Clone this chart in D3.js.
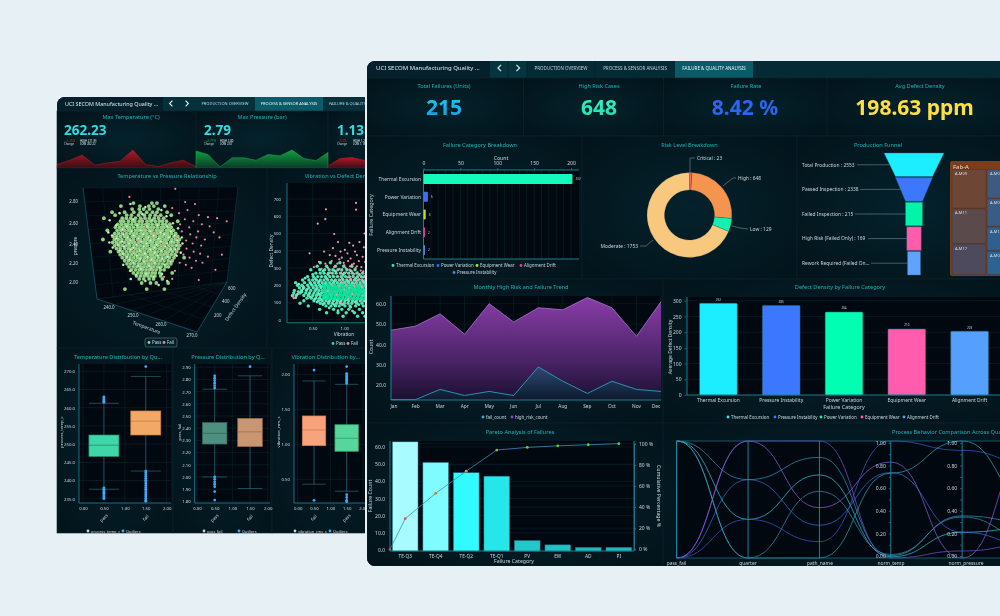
<!DOCTYPE html>
<meta charset="utf-8">
<style>
html,body{margin:0;padding:0;background:#e6f0f5;overflow:hidden;}
svg{display:block;font-family:"Noto Sans",sans-serif;filter:blur(.25px);}
.ax path,.ax line{stroke:#1f8a9c;stroke-width:.7;fill:none;}
.ax text{font-size:5px;fill:#c5d8dd;font-family:"Noto Sans",sans-serif;}
.grid line{stroke:#0e2b34;stroke-width:.5;}
</style>
<body>
<script src="https://cdnjs.cloudflare.com/ajax/libs/d3/7.8.5/d3.min.js"></script>
<script>
// ---------- data ----------
var failCats=['Thermal Excursion','Power Variation','Equipment Wear','Alignment Drift','Pressure Instability'];
var failCounts=[202,6,3,2,2];
var failColors=['#14fabb','#3a6fef','#b6e31a','#e0408f','#4a8fdf'];

var riskNames=['Critical','High','Low','Moderate'];
var riskValues=[23,648,129,1753];
var riskColors=['#f46a6a','#f4944f','#14f0b0','#f8c87e'];

var funnelNames=['Total Production : 2553','Passed Inspection : 2338','Failed Inspection : 215','High Risk (Failed Only) : 169','Rework Required (Failed On...'];
var funnelValues=[2553,2338,215,169,100];
var funnelColors=['#1ceeff','#3b78ff','#00f5a8','#ff5cad','#5fa3ff'];

var fabLeft=['A-M09','A-M11','A-M17'];
var fabLeftVals=[38,34,30];
var fabRight=['A-M05','A-M02','A-M14','A-M08'];
var fabRightVals=[28,27,23,23];

var months=['Jan','Feb','Mar','Apr','May','Jun','Jul','Aug','Sep','Oct','Nov','Dec'];
var highRiskCount=[47,49,55,45,60,51,58,57,63,58,44,61];
var failCount=[13,13,18,15,17,15,29,22,16,22,18,17];

var densityCats=['Thermal Excursion','Pressure Instability','Power Variation','Equipment Wear','Alignment Drift'];
var densityVals=[292,285,264,210,203];
var densityColors=['#1ceeff','#3b78ff','#00ffb3','#ff5cad','#559fff'];

var paretoCats=['TE-Q3','TE-Q4','TE-Q2','TE-Q1','PV','EW','AD','PI'];
var paretoCounts=[63,51,45,43,5.5,3,1.5,1.5];
var paretoCum=[29,53,74,94,96.5,98,99,100];
var paretoColors=['#a8fcff','#7ffcff','#32fbff','#25e6e8','#20c8cc','#20c0c4','#1fb8bc','#1fb8bc'];

var parDims=['pass_fail','quarter','path_name','norm_temp','norm_pressure','next'];
var parRows=[
  [1,.67,.86,.02,.36,.30],
  [1,.33,.71,.01,.22,.26],
  [0,.33,.14,1,.92,.80],
  [1,0,.57,.03,.35,.15],
  [0,1,.43,.82,0,1],
  [0,.67,.28,.73,.22,.10],
  [0,1,1,0,.06,.12],
  [1,0,0,.725,1,.45]
];
var parColors=['#2f9cbc','#30d0d8','#3c5fd0','#4a8fb0','#9a5fe0','#3f6fd8','#7d58d8','#2fa9c0'];

var sparkTemp=[10,23,38,8,15,20,53,10,4,15,23,4];
var sparkPress=[50,40,3,30,30,23,40,36,53,28,22,46];
var sparkVib=[6,28,31,23,25,12];

// temperature / pressure cloud, one row per pressure level
var pass3d=[
 [2.78,[247.2,252.6,254.1]],
 [2.75,[243.5,249.1,251.7,253.2,256.4]],
 [2.72,[246.8,248.9,250.2,251.9,254.5]],
 [2.69,[240.9,244.6,247.3,249.2,251.1,252.8,254.1,257.1]],
 [2.66,[241.8,245.2,246.6,248.7,250.4,252.1,253.6,255.2,258.3]],
 [2.63,[238.5,243.9,245.1,246.4,247.8,249.3,250.6,251.9,253.3,254.6,256.1]],
 [2.60,[243.4,244.3,245.7,246.9,247.6,248.9,249.8,251.2,252.3,253.6,254.8,255.7,256.9,260.2]],
 [2.57,[242.6,243.7,244.8,245.6,246.7,247.9,248.6,249.7,250.8,251.6,252.7,253.9,254.6,255.8,256.7,257.9]],
 [2.54,[241.9,243.1,244.2,245.3,246.1,247.2,248.4,249.3,250.2,251.4,252.3,253.2,254.3,255.4,256.2,257.4,258.3]],
 [2.51,[239.5,242.4,243.5,244.6,245.7,246.6,247.8,248.7,249.8,250.7,251.8,252.7,253.9,254.8,255.7,256.9,257.8,258.9]],
 [2.48,[241.7,242.8,243.9,245.1,246.2,247.3,248.2,249.4,250.3,251.2,252.4,253.3,254.2,255.3,256.4,257.3,258.4,259.6]],
 [2.45,[241.2,242.3,243.4,244.6,245.5,246.8,247.7,248.8,249.7,250.9,251.8,252.9,253.7,254.9,255.8,256.9,257.8,259.1,260.2]],
 [2.42,[238.2,241.6,242.7,243.8,245.1,246.1,247.2,248.4,249.2,250.4,251.3,252.4,253.3,254.4,255.3,256.4,257.3,258.5,259.6,260.7]],
 [2.39,[241.1,242.2,243.3,244.5,245.6,246.7,247.6,248.8,249.9,250.8,251.9,252.8,253.9,254.8,255.9,256.8,258.1,259.1,260.3]],
 [2.36,[241.7,242.9,243.9,245.1,246.1,247.3,248.3,249.3,250.4,251.3,252.5,253.4,254.4,255.4,256.3,257.6,258.6,259.7,260.8]],
 [2.33,[242.2,243.3,244.6,245.7,246.7,247.8,248.8,249.9,250.9,251.9,252.9,253.8,254.9,255.9,257.1,258.1,259.2,260.4]],
 [2.30,[240.4,242.8,243.9,245.1,246.2,247.3,248.3,249.4,250.4,251.5,252.4,253.4,254.4,255.5,256.6,257.6,258.7,259.9]],
 [2.27,[243.3,244.5,245.6,246.7,247.8,248.9,249.9,250.9,252.1,252.9,253.9,255.1,256.1,257.2,258.3,259.4]],
 [2.24,[243.9,245.1,246.2,247.3,248.4,249.4,250.5,251.5,252.5,253.4,254.5,255.6,256.7,257.8,259.1,262.1]],
 [2.21,[244.6,245.7,246.8,247.9,248.9,250.1,251.1,252.1,253.1,254.1,255.1,256.2,257.4,258.6]],
 [2.18,[245.3,246.4,247.5,248.6,249.6,250.6,251.6,252.6,253.6,254.7,255.8,257.1,258.2]],
 [2.15,[245.9,247.1,248.2,249.2,250.2,251.2,252.3,253.2,254.3,255.3,256.6,257.5]],
 [2.12,[246.6,247.8,248.9,249.9,250.9,251.9,252.9,253.9,255.1,256.2]],
 [2.09,[247.2,248.5,249.6,250.7,251.6,252.7,253.6,254.9,258.6]],
 [2.06,[248.1,249.3,250.4,251.4,252.4,253.5,255.2]],
 [2.03,[248.9,250.2,251.8,253.1,255.7]],
 [1.99,[249.6,252.2,253.9,257.4]],
 [1.93,[244.7,251.1,256.3]]
];
// irregular extra passes that fill out the cloud
var pass3dExtra=[[246.3,2.77],[250.7,2.74],[255.4,2.71],[243.1,2.68],[249.8,2.67],[256.9,2.65],[240.2,2.61],[247.1,2.62],[252.7,2.61],[258.8,2.58],[242.1,2.56],[245.2,2.55],[248.3,2.56],[251.2,2.55],[254.2,2.56],[257.1,2.55],[260.3,2.53],[239.8,2.49],[243.9,2.52],[246.6,2.5],[249.3,2.51],[252.1,2.5],[255.1,2.49],[258.2,2.5],[240.9,2.46],[244.2,2.47],[247.3,2.46],[250.1,2.47],[253.1,2.46],[256.2,2.47],[259.3,2.46],[261.4,2.44],[242.2,2.43],[245.5,2.44],[248.6,2.43],[251.6,2.44],[254.6,2.43],[257.6,2.44],[260.1,2.41],[240.1,2.39],[243.8,2.4],[246.3,2.41],[249.5,2.4],[252.2,2.41],[255.2,2.4],[258.4,2.4],[261.6,2.38],[242.6,2.37],[245.9,2.38],[248.1,2.37],[251.1,2.38],[254,2.37],[257.1,2.38],[260,2.36],[241.1,2.34],[244.4,2.35],[247.2,2.34],[250.2,2.35],[253.3,2.34],[256.6,2.35],[259.5,2.32],[243.2,2.31],[246.4,2.32],[249.1,2.31],[252.2,2.32],[255.4,2.31],[258.2,2.32],[261.1,2.29],[244.1,2.28],[247.3,2.29],[250.6,2.28],[253.5,2.29],[256.8,2.28],[259.9,2.26],[245.3,2.25],[248.2,2.26],[251.3,2.25],[254.3,2.26],[257.3,2.25],[246.1,2.22],[249.2,2.23],[252.5,2.22],[255.6,2.23],[258.1,2.2],[244.2,2.17],[247.2,2.19],[250.3,2.2],[253.4,2.19],[256.4,2.17],[248.6,2.16],[251.8,2.16],[254.9,2.14],[246.2,2.11],[249.4,2.13],[252.4,2.13],[255.6,2.08],[247.9,2.07],[250.9,2.08],[253.1,2.05],[257.1,2.01],[250.7,2.01],[246.4,2.03],[254.6,1.97]];
var fail3d=[[259.5,2.92],[246,2.84],[262.4,2.79],[265.3,2.77],[258.6,2.73],[263.1,2.71],[260.6,2.68],[266.4,2.66],[269.1,2.64],[271.8,2.63],[274.6,2.6],[262.3,2.62],[264.8,2.6],[267.3,2.57],[269.6,2.55],[260.9,2.57],[263.6,2.54],[266.2,2.5],[270.8,2.49],[272.5,2.44],[261.4,2.5],[263.9,2.47],[265.7,2.44],[268.2,2.42],[259.9,2.44],[262.7,2.41],[264.6,2.38],[267.1,2.36],[273.2,2.27],[260.7,2.36],[262.8,2.33],[264.9,2.3],[266.8,2.28],[269.1,2.25],[259.8,2.3],[261.9,2.27],[263.7,2.24],[265.6,2.21],[267.5,2.19],[271.3,2.12],[258.7,2.22],[260.8,2.19],[262.6,2.17],[264.3,2.14],[259.4,2.11],[256.2,2.05],[258.6,2.03],[266.4,2.02],[253.4,2.48],[249.7,2.62],[255.6,2.36],[247.2,2.3],[251.8,2.2],[254.4,2.65],[257.8,2.58],[248.4,2.41],[250.5,2.53],[256.7,2.28],[244.8,2.5],[252.6,2.12]];

// vibration / defect density cloud, one row per defect level
var passVib=[
 [330,[.62,.78,.93]],
 [310,[.57,.72,.86,.99,1.12]],
 [290,[.47,.61,.69,.76,.82,.9,.96,1.04,1.17]],
 [270,[.55,.62,.68,.75,.81,.87,.94,1,1.07,1.13,1.2,1.29]],
 [250,[.42,.51,.58,.64,.7,.77,.83,.89,.95,1.02,1.08,1.14,1.21,1.27,1.33]],
 [230,[.34,.44,.5,.56,.62,.68,.74,.8,.86,.92,.98,1.04,1.1,1.16,1.22,1.28,1.34]],
 [215,[.23,.37,.46,.53,.59,.65,.71,.77,.83,.89,.95,1.01,1.07,1.13,1.19,1.25,1.31,1.36]],
 [200,[.26,.33,.42,.49,.55,.61,.67,.73,.79,.85,.91,.97,1.03,1.09,1.15,1.21,1.27,1.33]],
 [185,[.29,.36,.44,.51,.57,.63,.69,.75,.81,.87,.93,.99,1.05,1.11,1.17,1.23,1.29,1.35]],
 [170,[.21,.32,.4,.47,.54,.6,.66,.72,.78,.84,.9,.96,1.02,1.08,1.14,1.2,1.26,1.32]],
 [155,[.2,.3,.39,.45,.52,.58,.64,.7,.76,.82,.88,.94,1,1.06,1.12,1.18,1.24,1.3,1.36]],
 [140,[.18,.24,.36,.43,.5,.56,.62,.68,.74,.8,.86,.92,.98,1.04,1.1,1.16,1.22,1.28,1.34]],
 [125,[.41,.48,.55,.61,.67,.73,.79,.85,.91,.97,1.03,1.09,1.15,1.21,1.27,1.33]],
 [110,[.36,.52,.59,.65,.71,.77,.83,.89,.95,1.01,1.07,1.13,1.19,1.25,1.31]],
 [95,[.3,.62,.68,.75,.81,.88,.94,1,1.06,1.12,1.2,1.28,1.36]],
 [80,[.43,.71,.79,.86,.92,1.01,1.09,1.18,1.3]],
 [60,[.61,.83,.96,1.07,1.24]],
 [40,[.72,.9,1.03,1.16,1.29]],
 [20,[.98,1.21,1.33]]
];
var passVibExtra=[[.5,262],[.66,282],[.74,262],[.85,283],[.98,262],[1.1,284],[1.24,262],[.38,241],[.54,238],[.6,222],[.72,240],[.84,222],[.97,238],[1.06,222],[1.18,240],[1.3,222],[.28,206],[.47,208],[.64,192],[.7,208],[.82,194],[.94,208],[1,192],[1.12,207],[1.26,193],[.35,192],[.41,176],[.56,178],[.67,163],[.76,177],[.86,162],[.92,178],[1.04,163],[1.16,177],[1.28,162],[.26,148],[.33,162],[.44,148],[.6,148],[.7,132],[.79,148],[.91,133],[1.02,148],[1.08,132],[1.22,148],[1.33,131],[.46,132],[.53,118],[.63,117],[.75,103],[.87,118],[.93,103],[1.04,117],[1.17,102],[1.27,118],[.57,102],[.66,88],[.84,88],[.97,87],[1.1,72],[1.23,87],[.76,68],[.9,52],[1.13,50],[1.35,72],[.35,180],[.27,163],[.23,128]];
var failVib=[[.71,640],[.7,583],[.58,557],[.84,497],[1.186,677],[1.186,638],[1.36,600],[1.32,500],[.45,385],[.68,395],[.82,415],[.9,450],[1.01,405],[1.08,445],[1.14,430],[1.24,450],[1.31,420],[.94,395],[1.05,385],[1.17,395],[.77,375],[.86,370],[.96,360],[1.1,355],[1.2,375],[1.29,365],[1.35,390],[.6,335],[.7,325],[.8,340],[.89,325],[.99,330],[1.06,340],[1.15,325],[1.23,340],[1.33,335],[.52,305],[.64,295],[.74,300],[.84,305],[.92,295],[1.02,300],[1.09,310],[1.18,300],[1.27,305],[1.36,300],[.78,275],[.87,280],[.95,270],[1.03,275],[1.12,280],[1.21,275],[1.3,280],[.82,255],[.9,250],[.98,255],[1.06,245],[1.14,255],[1.22,250],[1.32,255],[.86,225],[.94,230],[1.02,220],[1.11,230],[1.19,225],[1.28,230],[1.35,225],[.8,205],[.92,195],[1.03,200],[1.16,195],[1.25,205],[.2,125],[.18,135],[.74,165],[.88,145],[1,175],[1.13,150],[1.3,140],[1.06,120],[.95,100],[.92,350],[1.0,315],[1.12,320],[1.2,310],[1.26,285],[1.34,270],[1.16,265],[1.08,290],[.96,285],[1.3,245],[1.24,235],[1.1,240],[.98,215],[1.16,210],[1.33,210],[1.28,190],[1.08,185]];

// box plots: low whisker, q1, median, q3, high whisker
var boxTemp=[[237.6,246.6,249.7,252.5,261.2],[242.6,252.5,256.3,259.1,268.6]];
var boxPress=[[2.0,2.27,2.358,2.446,2.72],[1.905,2.25,2.37,2.48,2.83]];
var boxVib=[[.43,.98,1.205,1.405,1.905],[.33,.9,1.086,1.28,1.857]];
var outTemp=[[263,262.7,262.4,262.1,261.8,261.5,238,237.6,237.2,236.8,236.4,236,235.6,235.2,235],[271.3,242.6,242.1,241.6,241.1,240.6,240.1,239.6,239.1,238.6,238.1,237.6,237.1,236.6,236.1,235.6,235.1,234.6,234.3]];
var outPress=[[2.83,2.81,2.79,2.77,2.75,2.73,2,1.98,1.96,1.94,1.92,1.88,1.81],[2.905]];
var outVib=[[2.06,.2],[2.11,2.01,1.99,1.97,1.95,1.93,1.91,1.89,1.87,.28,.24,.2,.18]];

// ---------- page ----------
var W=1000,H=616;
var svg=d3.select('body').append('svg').attr('width',W).attr('height',H);
var defs=svg.append('defs');
svg.append('rect').attr('width',W).attr('height',H).attr('fill','#e6f0f5');

function grad(id,stops,vertical){
  var g=defs.append('linearGradient').attr('id',id).attr('x1',0).attr('y1',0).attr('x2',vertical?0:1).attr('y2',vertical?1:0);
  stops.forEach(function(s){g.append('stop').attr('offset',s[0]).attr('stop-color',s[1]);});
}
grad('hrArea',[[0,'#8a3da8'],[.6,'#4b2468'],[1,'#1a1030']],true);
grad('fcArea',[[0,'#24587a'],[1,'#0a1c2c']],true);
grad('val1',[[0,'#22d0f8'],[1,'#0e9be0']],true);
grad('val2',[[0,'#3af5c8'],[1,'#20e0a8']],true);
var glow=defs.append('radialGradient').attr('id','card').attr('cx','50%').attr('cy','50%').attr('r','70%');
glow.append('stop').attr('offset',0).attr('stop-color','#04222c');
glow.append('stop').attr('offset',1).attr('stop-color','#03131a');

function txt(g,x,y,s,o){
  o=o||{};
  var t=g.append('text').attr('x',x).attr('y',y).text(s)
    .attr('font-size',o.size||5.2).attr('fill',o.fill||'#c5d8dd')
    .attr('text-anchor',o.anchor||'middle');
  if(o.weight) t.attr('font-weight',o.weight);
  if(o.rot!==undefined) t.attr('transform','rotate('+o.rot+' '+x+' '+y+')');
  return t;
}
function title(g,x,y,s){return txt(g,x,y,s,{size:5.6,fill:'#19b5b5'});}
function card(g,x,y,w,h){
  g.append('rect').attr('x',x).attr('y',y).attr('width',w).attr('height',h)
    .attr('fill','url(#card)').attr('stroke','#0a2630').attr('stroke-width',.6);
}
function plotBg(g,x0,y0,x1,y1){
  g.append('rect').attr('x',x0).attr('y',y0).attr('width',x1-x0).attr('height',y1-y0).attr('fill','#01080f');
}
function hgrid(g,y,x0,x1,vals){
  g.append('g').attr('class','grid').selectAll('line').data(vals).join('line')
    .attr('x1',x0).attr('x2',x1).attr('y1',function(d){return y(d);}).attr('y2',function(d){return y(d);});
}
function vgrid(g,x,y0,y1,vals){
  g.append('g').attr('class','grid').selectAll('line').data(vals).join('line')
    .attr('y1',y0).attr('y2',y1).attr('x1',function(d){return x(d);}).attr('x2',function(d){return x(d);});
}
function axis(g,gen,tx,ty){
  return g.append('g').attr('class','ax').attr('transform','translate('+tx+','+ty+')').call(gen);
}
function legend(g,items,y,size){
  items.forEach(function(it){
    g.append('circle').attr('cx',it[0]).attr('cy',y).attr('r',1.4).attr('fill',it[2]);
    txt(g,it[0]+3,y+1.5,it[1],{size:size||4.4,anchor:'start'});
  });
}
function chevron(g,x,y,s,dir){
  g.append('path').attr('d',d3.line()([[x-dir*s*.5,y-s],[x+dir*s*.5,y],[x-dir*s*.5,y+s]]))
    .attr('fill','none').attr('stroke','#e5f3f5').attr('stroke-width',1.1);
}

// ---------- back dashboard ----------
var back=svg.append('g');
back.append('rect').attr('x',57).attr('y',97).attr('width',340).attr('height',436).attr('rx',8).attr('fill','#03161e');
back.append('path').attr('d','M57 111V105a8 8 0 0 1 8-8H163V111Z').attr('fill','#04202c');
back.append('rect').attr('x',163).attr('y',97).attr('width',230).attr('height',14).attr('fill','#06303c');
back.append('rect').attr('x',255).attr('y',97).attr('width',68).attr('height',14).attr('fill','#0a5a68');
txt(back,65,105.8,'UCI SECOM Manufacturing Quality ...',{size:5.4,anchor:'start',fill:'#dbe9ec'});
chevron(back,171,103.5,2.8,-1);
chevron(back,187,103.5,2.8,1);
txt(back,225,105.3,'PRODUCTION OVERVIEW',{size:4,fill:'#b7d0d6'});
txt(back,289,105.3,'PROCESS & SENSOR ANALYSIS',{size:4,fill:'#e5f3f5'});
txt(back,329,105.3,'FAILURE & QUALITY',{size:4,anchor:'start',fill:'#b7d0d6'});

card(back,57,111,139,57);card(back,196,111,132,57);card(back,328,111,60,57);
title(back,131,119,'Max Temperature (°C)');
title(back,262,119,'Max Pressure (bar)');
txt(back,64,135,'262.23',{size:13.5,weight:700,anchor:'start',fill:'#2fdde0'});
txt(back,204,135,'2.79',{size:13.5,weight:700,anchor:'start',fill:'#2fdde0'});
txt(back,337,135,'1.13',{size:13.5,weight:700,anchor:'start',fill:'#2fdde0'});
[[64,'↓-1.25%','#e02f30','271.95','262.22'],[204,'↑+2.71%','#1ec050','2.80','2.67'],[337,'↓-1.5%','#e02f30','1.24','1.13']].forEach(function(k){
  txt(back,k[0],141.5,k[1],{size:3.1,anchor:'start',fill:k[2]});
  txt(back,k[0],145,'Change',{size:2.8,anchor:'start',fill:'#c5d8dd'});
  txt(back,k[0]+16,141.5,'HIGH  '+k[3],{size:2.8,anchor:'start',fill:'#dfeaee'});
  txt(back,k[0]+16,145,'LOW  '+k[4],{size:2.8,anchor:'start',fill:'#dfeaee'});
});
grad('sparkRed',[[0,'#b01825'],[1,'#3a0d14']],true);
grad('sparkGreen',[[0,'#10a040'],[1,'#0a3a26']],true);
var sparkY=d3.scaleLinear().domain([0,53]).range([168,150]);
function spark(vals,x0,x1,fill,stroke){
  var x=d3.scaleLinear().domain([0,vals.length-1]).range([x0,x1]);
  var a=d3.area().x(function(d,i){return x(i);}).y0(168).y1(function(d){return sparkY(d);});
  back.append('path').attr('d',a(vals)).attr('fill',fill).attr('stroke',stroke).attr('stroke-width',.4);
}
spark(sparkTemp,57,196,'url(#sparkRed)','#d82030');
spark(sparkPress,196,328,'url(#sparkGreen)','#18c050');
spark(sparkVib,328,388,'url(#sparkRed)','#d82030');

// temperature / pressure pseudo 3D panel
card(back,57,168,210,180);card(back,267,168,120,180);
title(back,167,178,'Temperature vs Pressure Relationship');
var box3d={tl:[83,188],tr:[238,187],br:[227,282],bl:[97,299],fr:[197,332]};
back.append('path').attr('d',d3.line()([box3d.tl,box3d.tr,box3d.br,box3d.fr,box3d.bl])+'Z').attr('fill','#01080f');
var grid3d=back.append('g').attr('stroke','#0c2630').attr('stroke-width',.4);
function seg3d(a1,a2,b1,b2,n){
  var ia=d3.interpolate(a1,a2),ib=d3.interpolate(b1,b2);
  d3.range(n+1).forEach(function(i){
    var p=ia(i/n),q=ib(i/n);
    grid3d.append('line').attr('x1',p[0]).attr('y1',p[1]).attr('x2',q[0]).attr('y2',q[1]);
  });
}
seg3d(box3d.tl,box3d.tr,box3d.bl,box3d.br,8);
seg3d(box3d.tl,box3d.bl,box3d.tr,box3d.br,8);
seg3d(box3d.bl,box3d.fr,box3d.br,box3d.br,6);
seg3d(box3d.bl,box3d.br,box3d.fr,box3d.br,4);
back.append('path').attr('d',d3.line()([box3d.tl,box3d.bl,box3d.fr,box3d.br])).attr('fill','none').attr('stroke','#1b6a7a').attr('stroke-width',.6);
back.append('path').attr('d',d3.line()([box3d.br,box3d.tr])).attr('fill','none').attr('stroke','#123d48').attr('stroke-width',.5);
var tx3d=d3.scaleLinear().domain([235,275]).range([92,228]);
var py3d=d3.scaleLinear().domain([2,2.8]).range([282,201]);
[['2.80',201],['2.60',223],['2.40',244],['2.20',263],['2.00',282]].forEach(function(t){txt(back,78,t[1]+1.5,t[0],{size:4.4,anchor:'end'});});
[['240.0',109,309],['250.0',133,317],['260.0',161,326],['270.0',192,337]].forEach(function(t){txt(back,t[1],t[2],t[0],{size:4.4});});
[['200',214,317],['400',222,303],['600',228,290]].forEach(function(t){txt(back,t[1],t[2],t[0],{size:4.4,anchor:'start'});});
txt(back,146,329,'Temperature',{size:4.8,rot:20});
txt(back,237,308,'Defect Density',{size:4.8,rot:-55});
txt(back,77,246,'pressure',{size:4.4,rot:-90});
var pts3d=[];
pass3d.forEach(function(r){r[1].forEach(function(t){pts3d.push([t,r[0]]);});});
function dots(g,data,x,y,r,fill){
  g.append('g').selectAll('circle').data(data).join('circle')
    .attr('cx',function(d){return x(d[0]);}).attr('cy',function(d){return y(d[1]);}).attr('r',r).attr('fill',fill);
}
dots(back,pts3d,tx3d,py3d,1.9,'#8fd084');
dots(back,pass3dExtra,tx3d,py3d,1.3,'#a8dc9c');
dots(back,pass3dExtra,tx3d,py3d,.6,'#eefbe6');
dots(back,fail3d,tx3d,py3d,1.1,'#e88a92');
back.append('rect').attr('x',145).attr('y',338).attr('width',32).attr('height',9).attr('rx',2).attr('fill','#06202a').attr('stroke','#6f8c94').attr('stroke-width',.5);
legend(back,[[149,'Pass','#93d488'],[164,'Fail','#e88a92']],342.5);

// vibration / defect panel
title(back,340,178,'Vibration vs Defect Density');
var vx=d3.scaleLinear().domain([.5,1]).range([312.7,344.3]);
var vy=d3.scaleLinear().domain([0,700]).range([319.7,199]);
plotBg(back,287,183,400,322.7);
hgrid(back,vy,287,400,[0,100,200,300,400,500,600,700]);
vgrid(back,vx,183,322.7,[.5,1,1.5]);
axis(back,d3.axisLeft(vy).tickValues([0,100,200,300,400,500,600,700]).tickSize(0).tickFormat(d3.format('d')),284,0).select('path').remove();
axis(back,d3.axisBottom(vx).tickValues([.5,1]).tickSize(0).tickFormat(d3.format('.2f')),0,323.5).select('path').remove();
back.append('path').attr('d','M287 183V322.7H400').attr('fill','none').attr('stroke','#1f8a9c').attr('stroke-width',.8);
txt(back,273,251,'Defect Density',{size:4.8,rot:-90});
txt(back,344,336.2,'Vibration',{size:4.8});
legend(back,[[333,'Pass','#1fe0a0'],[348,'Fail','#e88a92']],343.5);
var ptsVib=[];
passVib.forEach(function(r){r[1].forEach(function(v){ptsVib.push([v,r[0]]);});});
dots(back,ptsVib,vx,vy,1.7,'#4fe6b4');
dots(back,passVibExtra,vx,vy,1.4,'#6fe8c2');
dots(back,ptsVib.filter(function(d){return d[1]<=200&&d[1]>=125&&d[0]>.65;}),vx,vy,1.9,'#10e09c');
dots(back,failVib,vx,vy,1.1,'#f09aa4');

// box plot row
card(back,57,348,116,185);card(back,173,348,99,185);card(back,272,348,120,185);
function boxChart(o){
  title(back,o.cx,359,o.title);
  var x=d3.scaleLinear().domain([0,2]).range(o.xr);
  var y=d3.scaleLinear().domain(o.yd).range(o.yr);
  plotBg(back,o.x0,364,o.x1,503);
  hgrid(back,y,o.x0,o.x1,o.yt);
  vgrid(back,x,364,503,[0,.5,1,1.5,2]);
  axis(back,d3.axisLeft(y).tickValues(o.yt).tickSize(0).tickFormat(d3.format(o.fmt)),o.x0-1,0).select('path').remove();
  axis(back,d3.axisBottom(x).tickValues([0,.5,1,1.5,2]).tickSize(0).tickFormat(d3.format('.2f')),0,504).select('path').remove();
  back.append('path').attr('d','M'+o.x0+' 364V503H'+o.x1).attr('fill','none').attr('stroke','#1f8a9c').attr('stroke-width',.8);
  txt(back,o.ylx,432,o.yl,{size:4.2,rot:-90});
  o.boxes.forEach(function(b,i){
    var c=x(i+.5),w=o.bw/2;
    var g=back.append('g').attr('stroke','#2a6a72').attr('stroke-width',.7);
    g.append('line').attr('x1',c).attr('x2',c).attr('y1',y(b[0])).attr('y2',y(b[4]));
    g.append('line').attr('x1',c-w).attr('x2',c+w).attr('y1',y(b[0])).attr('y2',y(b[0]));
    g.append('line').attr('x1',c-w).attr('x2',c+w).attr('y1',y(b[4])).attr('y2',y(b[4]));
    back.append('rect').attr('x',c-w).attr('width',w*2).attr('y',y(b[3])).attr('height',y(b[1])-y(b[3]))
      .attr('fill',o.fills[i]).attr('stroke',o.strokes[i]).attr('stroke-width',.7);
    back.append('line').attr('x1',c-w).attr('x2',c+w).attr('y1',y(b[2])).attr('y2',y(b[2])).attr('stroke',o.strokes[i]).attr('stroke-width',.8);
    back.append('g').selectAll('circle').data(o.outs[i]).join('circle')
      .attr('cx',c).attr('cy',function(d){return y(d);}).attr('r',1.4).attr('fill','#3fa9f5');
    txt(back,c+1,519,o.cats[i],{size:4.4,rot:-45});
  });
  legend(back,[[o.lx,o.yl,'#c5d8dd'],[o.lx+35,'Outliers','#3fa9f5']],531,3.9);
}
boxChart({cx:118,title:'Temperature Distribution by Qu...',xr:[83,166.7],yd:[235,270],yr:[498.7,371.3],x0:79,x1:171,yt:[235,240,245,250,255,260,265,270],fmt:'.1f',ylx:63,yl:'process_temp_c',boxes:boxTemp,outs:outTemp,bw:30,fills:['#3fd6a8','#f2a968'],strokes:['#1c8f70','#c87c3c'],cats:['pass','fail'],lx:88});
boxChart({cx:228,title:'Pressure Distribution by Q...',xr:[197,267.7],yd:[1.8,2.9],yr:[501.3,367.3],x0:194.7,x1:270,yt:[1.8,1.9,2,2.1,2.2,2.3,2.4,2.5,2.6,2.7,2.8,2.9],fmt:'.2f',ylx:180.5,yl:'pass_fail',boxes:boxPress,outs:outPress,bw:24.5,fills:['#4f8f80','#c99671'],strokes:['#2e6a5c','#a0704c'],cats:['pass','fail'],lx:204});
boxChart({cx:325.7,title:'Vibration Distribution by...',xr:[297.7,363],yd:[.5,2],yr:[479.3,374.3],x0:294,x1:400,yt:[.5,1,1.5,2],fmt:'.2f',ylx:280,yl:'vibration_rms_s',boxes:boxVib,outs:outVib,bw:23.5,fills:['#f8a37c','#56d69a'],strokes:['#c87c5c','#2f9c6c'],cats:['fail','pass'],lx:295});
back.selectAll('.ax text').style('font-size','4.3px');

// ---------- front dashboard ----------
var front=svg.append('g');
defs.append('clipPath').attr('id','frontClip').append('rect').attr('x',367).attr('y',61).attr('width',700).attr('height',505).attr('rx',8);
front.append('rect').attr('x',366).attr('y',60).attr('width',702).attr('height',507).attr('rx',9).attr('fill','#03161e').attr('stroke','#e6f0f5').attr('stroke-width',2);
var fr=front.append('g').attr('clip-path','url(#frontClip)');

fr.append('rect').attr('x',367).attr('y',61).attr('width',123).attr('height',17).attr('fill','#04202c');
fr.append('rect').attr('x',490).attr('y',61).attr('width',560).attr('height',17).attr('fill','#042a36');
fr.append('rect').attr('x',490).attr('y',61).attr('width',37).attr('height',17).attr('fill','#06343f');
fr.append('rect').attr('x',675).attr('y',61).attr('width',78).attr('height',17).attr('fill','#0a5a68');
[[508,61,508,78],[527,61,527,78],[595,61,595,78]].forEach(function(l){
  fr.append('line').attr('x1',l[0]).attr('y1',l[1]).attr('x2',l[2]).attr('y2',l[3]).attr('stroke','#03202a').attr('stroke-width',.6);
});
txt(fr,376,70.2,'UCI SECOM Manufacturing Quality ...',{size:6,anchor:'start',fill:'#dbe9ec'});
chevron(fr,499.5,68,3.2,-1);
chevron(fr,518,68,3.2,1);
txt(fr,561,69.7,'PRODUCTION OVERVIEW',{size:4.5,fill:'#b7d0d6'});
txt(fr,635,69.7,'PROCESS & SENSOR ANALYSIS',{size:4.5,fill:'#b7d0d6'});
txt(fr,714,69.7,'FAILURE & QUALITY ANALYSIS',{size:4.5,fill:'#e5f3f5'});

// kpi row
card(fr,367,78,156.5,58);card(fr,523.5,78,140,58);card(fr,663.5,78,163.5,58);card(fr,827,78,200,58);
[[444,444,'Total Failures (Units)','215','url(#val1)'],[599,599,'High Risk Cases','648','url(#val2)'],[746,745,'Failure Rate','8.42 %','#2a66ee'],[920,914.6,'Avg Defect Density','198.63 ppm','#ffe040']].forEach(function(k){
  title(fr,k[0],87.5,k[2]);
  txt(fr,k[1],115,k[3],{size:21,weight:700,fill:k[4]});
});

// failure category breakdown
card(fr,367,136,215,143);card(fr,582,136,215,143);card(fr,797,136,230,143);
title(fr,480,146.5,'Failure Category Breakdown');
var bx=d3.scaleLinear().domain([0,200]).range([423.5,571]);
var by=d3.scaleBand().domain(failCats).range([170,259]);
plotBg(fr,423,170,579,259);
vgrid(fr,bx,170,259,d3.range(0,201,10));
axis(fr,d3.axisTop(bx).tickValues([0,50,100,150,200]).tickSize(2).tickFormat(d3.format('d')),0,170).select('path').remove();
fr.append('path').attr('d','M579 170H423.5V259H579').attr('fill','none').attr('stroke','#1f8a9c').attr('stroke-width',.9);
txt(fr,501,160,'Count',{size:5.2});
txt(fr,373,215,'Failure Category',{size:5.4,rot:-90});
failCats.forEach(function(c,i){
  var cy=by(c)+by.bandwidth()/2;
  txt(fr,421,cy+1.8,c,{size:4.9,anchor:'end'});
  fr.append('rect').attr('x',bx(0)).attr('y',cy-5).attr('width',bx(failCounts[i])-bx(0)).attr('height',10).attr('rx',1).attr('fill',failColors[i]);
  txt(fr,bx(failCounts[i])+3,cy+1.2,failCounts[i],{size:3,anchor:'start'});
});
legend(fr,[[393,failCats[0],failColors[0]],[438,failCats[1],failColors[1]],[477,failCats[2],failColors[2]],[521,failCats[3],failColors[3]]],265.5);
legend(fr,[[454,failCats[4],failColors[4]]],272.5);

// risk level donut
title(fr,689.5,146.5,'Risk Level Breakdown');
var pie=d3.pie().sort(null)(riskValues);
var arc=d3.arc().innerRadius(25).outerRadius(42.5);
fr.append('g').attr('transform','translate(689.5,215)').selectAll('path').data(pie).join('path')
  .attr('d',arc).attr('fill',function(d,i){return riskColors[i];}).attr('stroke','#0a3038').attr('stroke-width',.2);
var leaders=[[[690,173],[690,158],[695,158]],[[723,186],[733,178],[736,178]],[[732,226],[740,228],[748,229]],[[653,240],[646,246],[640,246]]];
var leaderLine=d3.line();
leaders.forEach(function(p){fr.append('path').attr('d',leaderLine(p)).attr('fill','none').attr('stroke','#8fa6ac').attr('stroke-width',.5);});
txt(fr,697,160,riskNames[0]+' : '+riskValues[0],{size:4.9,anchor:'start'});
txt(fr,738,180,riskNames[1]+' : '+riskValues[1],{size:4.9,anchor:'start'});
txt(fr,750,230.5,riskNames[2]+' : '+riskValues[2],{size:4.9,anchor:'start'});
txt(fr,638,248,riskNames[3]+' : '+riskValues[3],{size:4.9,anchor:'end'});

// production funnel
title(fr,878,146.5,'Production Funnel');
var fw=d3.scaleLinear().domain([100,169,215,2338,2553]).range([13,14.5,17,37,60]);
var fy=d3.scaleBand().domain(funnelNames).range([153,275]).paddingInner(.04);
var leaderStart=[857,860,855,868,871];
funnelNames.forEach(function(n,i){
  var v=funnelValues[i],t=fw(v),nextV=i==0?funnelValues[1]:(i==1?funnelValues[2]:v),b=fw(nextV);
  var y0=fy(n),y1=y0+fy.bandwidth(),cx=914;
  fr.append('path').attr('d',d3.line()([[cx-t/2,y0],[cx+t/2,y0],[cx+b/2,y1],[cx-b/2,y1]])+'Z').attr('fill',funnelColors[i]).attr('stroke','#2a6a78').attr('stroke-width',.4);
  fr.append('line').attr('x1',leaderStart[i]).attr('x2',cx-(t+b)/4).attr('y1',(y0+y1)/2).attr('y2',(y0+y1)/2).attr('stroke','#6f8c94').attr('stroke-width',.6);
  txt(fr,802,(y0+y1)/2+1.8,n,{size:4.9,anchor:'start'});
});

// fab treemap
fr.append('rect').attr('x',950).attr('y',161).attr('width',90).attr('height',115).attr('rx',2).attr('fill','#7a3e1c');
txt(fr,953,169,'Fab-A',{size:6,anchor:'start',fill:'#e8dcd0'});
function fabCol(names,vals,x,w,colors){
  var sum=d3.sum(vals),y=d3.scaleLinear().domain([0,sum]).range([169,275]),acc=0;
  names.forEach(function(n,i){
    var a=y(acc),b=y(acc+vals[i]);acc+=vals[i];
    fr.append('rect').attr('x',x).attr('y',a+.4).attr('width',w).attr('height',b-a-.8).attr('rx',1.5).attr('fill',colors[i]).attr('stroke','#2c2a2c').attr('stroke-width',.3);
    txt(fr,x+3,a+6,n,{size:4,anchor:'start',fill:'#d8dde0'});
  });
}
fabCol(fabLeft,fabLeftVals,952,34,['#6d4636','#5a4a4c','#4c4a5c']);
fabCol(fabRight,fabRightVals,987,40,['#3f5a80','#3a5b86','#2f5f8e','#2c6390']);

// monthly trend
card(fr,367,279,296,144);card(fr,663,279,364,144);
title(fr,521,289,'Monthly High Risk and Failure Trend');
var mx=d3.scalePoint().domain(months).range([391,661]);
var my=d3.scaleLinear().domain([13,64]).range([399.6,295.5]);
plotBg(fr,391,296,661,400);
hgrid(fr,my,391,661,[20,30,40,50,60]);
vgrid(fr,mx,296,400,months);
var trendArea=d3.area().x(function(d,i){return mx(months[i]);}).y0(400).y1(function(d){return my(d);});
var trendLine=d3.line().x(function(d,i){return mx(months[i]);}).y(function(d){return my(d);});
fr.append('path').attr('d',trendArea(highRiskCount)).attr('fill','url(#hrArea)');
fr.append('path').attr('d',trendLine(highRiskCount)).attr('fill','none').attr('stroke','#b070d0').attr('stroke-width',.8);
fr.append('path').attr('d',trendArea(failCount)).attr('fill','url(#fcArea)').attr('fill-opacity',.75);
fr.append('path').attr('d',trendLine(failCount)).attr('fill','none').attr('stroke','#28b0d0').attr('stroke-width',.8);
axis(fr,d3.axisLeft(my).tickValues([20,30,40,50,60]).tickSize(0).tickFormat(d3.format('.1f')),389,0).select('path').remove();
fr.append('path').attr('d','M391 296V400H661').attr('fill','none').attr('stroke','#1f8a9c').attr('stroke-width',.9);
months.forEach(function(m,i){
  var dx=i==0?3:(i==11?-5:0);
  txt(fr,mx(m)+dx,408,m,{size:4.8});
});
txt(fr,373,347,'Count',{size:5.2,rot:-90});
legend(fr,[[483,'fail_count','#22b8d8'],[512,'high_risk_count','#a040c0']],417);

// defect density bars
title(fr,840,289,'Defect Density by Failure Category');
var dx=d3.scaleBand().domain(densityCats).range([687,1001]).padding(.4).paddingOuter(.2);
var dy=d3.scaleLinear().domain([0,300]).range([395,300.7]);
plotBg(fr,687,297,1027,395);
hgrid(fr,dy,687,1027,[50,100,150,200,250,300]);
densityCats.forEach(function(c,i){
  fr.append('rect').attr('x',dx(c)).attr('y',dy(densityVals[i])).attr('width',dx.bandwidth()).attr('height',dy(0)-dy(densityVals[i])).attr('rx',1).attr('fill',densityColors[i]).attr('stroke','#2a6a78').attr('stroke-width',.5);
  txt(fr,dx(c)+dx.bandwidth()/2,dy(densityVals[i])-2.6,densityVals[i],{size:3});
  txt(fr,dx(c)+dx.bandwidth()/2,401.8,c,{size:4.9});
});
axis(fr,d3.axisLeft(dy).tickValues([0,50,100,150,200,250,300]).tickSize(2).tickFormat(d3.format('d')),686.5,0).select('path').remove();
fr.append('path').attr('d','M687 297V395H1027').attr('fill','none').attr('stroke','#1f8a9c').attr('stroke-width',.9);
txt(fr,844,408.5,'Failure Category',{size:5.4});
txt(fr,672,347,'Average Defect Density',{size:5,rot:-90});
legend(fr,[[728,densityCats[0],densityColors[0]],[775,densityCats[1],densityColors[1]],[821,densityCats[2],densityColors[2]],[862,densityCats[3],densityColors[3]],[904,densityCats[4],densityColors[4]]],417);

// pareto
card(fr,367,423,296,143);card(fr,663,423,364,143);
title(fr,520,434,'Pareto Analysis of Failures');
var px=d3.scaleBand().domain(paretoCats).range([387.5,636.5]).padding(.16);
var pyL=d3.scaleLinear().domain([0,60]).range([550,447]);
var pyR=d3.scaleLinear().domain([0,100]).range([549.3,443.7]);
plotBg(fr,390,441,634,551);
hgrid(fr,pyL,390,634,[10,20,30,40,50,60]);
hgrid(fr,pyR,390,634,[20,40,60,80,100]);
paretoCats.forEach(function(c,i){
  fr.append('rect').attr('x',px(c)).attr('y',pyL(paretoCounts[i])).attr('width',px.bandwidth()).attr('height',551-pyL(paretoCounts[i])).attr('fill',paretoColors[i]).attr('stroke','#1a7a88').attr('stroke-width',.5);
  txt(fr,px(c)+px.bandwidth()/2,558,c,{size:4.8});
});
var pc=function(c){return px(c)+px.bandwidth()/2;};
var cumPts=[[390,0]].concat(paretoCats.map(function(c,i){return [pc(c),paretoCum[i]];}));
fr.append('path').attr('d',d3.line().x(function(d){return d[0];}).y(function(d){return pyR(d[1]);})(cumPts)).attr('fill','none').attr('stroke','#3a8fc0').attr('stroke-width',.8);
var markColor=d3.scaleLinear().domain([0,50,75,100]).range(['#f03a2a','#f06a3a','#e09a3a','#40d840']);
fr.append('g').selectAll('circle').data(cumPts).join('circle')
  .attr('cx',function(d){return d[0];}).attr('cy',function(d){return pyR(d[1]);}).attr('r',1.4).attr('fill',function(d){return markColor(d[1]);});
axis(fr,d3.axisLeft(pyL).tickValues([0,10,20,30,40,50,60]).tickSize(0).tickFormat(d3.format('.1f')),388,0).select('path').remove();
axis(fr,d3.axisRight(pyR).tickValues([0,20,40,60,80,100]).tickSize(2).tickFormat(function(d){return d+' %';}),634,0);
fr.append('path').attr('d','M390 441V551H634V441').attr('fill','none').attr('stroke','#1f8a9c').attr('stroke-width',.9);
txt(fr,514,563,'Failure Category',{size:5.2});
txt(fr,372,496,'Failure Count',{size:5.2,rot:-90});
txt(fr,657,496,'Cumulative Percentage %',{size:5.2,rot:90});

// parallel coordinates
title(fr,892,434,'Process Behavior Comparison Across Quality').attr('text-anchor','start');
var parX=d3.scalePoint().domain(parDims).range([676.7,1033.5]);
var parY=d3.scaleLinear().domain([0,1]).range([558,441]);
plotBg(fr,676.7,441,1040,558);
var parLine=d3.line().x(function(d,i){return parX(parDims[i]);}).y(function(d){return parY(d);}).curve(d3.curveBumpX);
fr.append('g').selectAll('path').data(parRows).join('path').attr('d',parLine).attr('fill','none')
  .attr('stroke',function(d,i){return parColors[i];}).attr('stroke-width',.7);
fr.append('path').attr('d','M1040 441H676.7V558H1040').attr('fill','none').attr('stroke','#1f7088').attr('stroke-width',.7);
parDims.forEach(function(d){
  fr.append('line').attr('x1',parX(d)).attr('x2',parX(d)).attr('y1',441).attr('y2',558).attr('stroke','#1f9fb4').attr('stroke-width',.8);
});
var parTicks=d3.scaleLinear().domain([0,1]).range([556,443]);
['norm_temp','norm_pressure'].forEach(function(d){
  axis(fr,d3.axisLeft(parTicks).tickValues(d3.range(0,1.01,.1)).tickSize(2).tickFormat(function(v){return Math.round(v*10)%2==0?d3.format('.2f')(v):'';}),parX(d),0).select('path').remove();
});
[['pass_fail',676.5],['quarter',748],['path_name',820],['norm_temp',891],['norm_pressure',966]].forEach(function(l){
  txt(fr,l[1],564.5,l[0],{size:4.9});
});
</script>
</body>
</html>
